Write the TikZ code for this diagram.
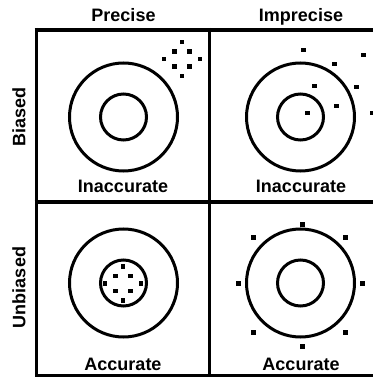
\documentclass[tikz,border=0pt]{standalone}
\usepackage{fontspec}
\setmainfont{Liberation Sans}
\usetikzlibrary{positioning}

\begin{document}
\begin{tikzpicture}[
      x=0.75pt,y=-0.75pt,
      grid/.style={line width=2.6pt},
      ring/.style={line width=2.25pt},
      dot/.style={fill=black},
      lbl/.style={font=\bfseries\fontsize{13.5}{14}\selectfont,inner sep=0pt,anchor=base}
    ]
      \useasboundingbox (0,0) rectangle (373,377);

      % frame
      \draw[grid] (36.5,28) -- (36.5,375.5) -- (373,375.5);
      \draw[grid] (34.5,30) -- (373,30);
      \draw[grid] (34.5,202) -- (373,202);
      \draw[grid] (209.5,28) -- (209.5,375.5);

      % headings
      \node[lbl] (precise) at (123.5,22) {Precise};
      \node[lbl] (imprecise) at (301,22) {Imprecise};
      \node[lbl,anchor=center,rotate=90] (biased) at (19,117) {Biased};
      \node[lbl,anchor=center,rotate=90] (unbiased) at (19,287.5) {Unbiased};

      % targets
      \foreach \cx/\cy in {123.5/117,300.5/117,123.5/283,300.5/283} {
        \draw[ring] (\cx,\cy) circle (54);
        \draw[ring] (\cx,\cy) circle (23);
      }

      % precise shots
      \foreach \cx/\cy in {181.5/59,122.5/283} {
        \foreach \dx/\dy in {0/-17,0/17,-18/0,18/0,-7.5/-7.5,7.5/-7.5,-7.5/7.5,7.5/7.5} {
          \fill[dot] (\cx+\dx-2,\cy+\dy-2) rectangle ++(4.5,4.5);
        }
      }

      % imprecise shots
      \foreach \x/\y in {303/50,363/55,334/64,314/86,356/87,336/106,307/113,372/113,
                         302/224,253/237,345/237,238/283,362/283,253/332,345/332,302/346} {
        \fill[dot] (\x-2,\y-2) rectangle ++(4.5,4.5);
      }

      % outcomes
      \node[lbl] (inacc1) at (123,192.5) {Inaccurate};
      \node[lbl] (inacc2) at (301,192.5) {Inaccurate};
      \node[lbl] (acc1) at (123,370) {Accurate};
      \node[lbl] (acc2) at (301,370) {Accurate};
    \end{tikzpicture}
\end{document}
